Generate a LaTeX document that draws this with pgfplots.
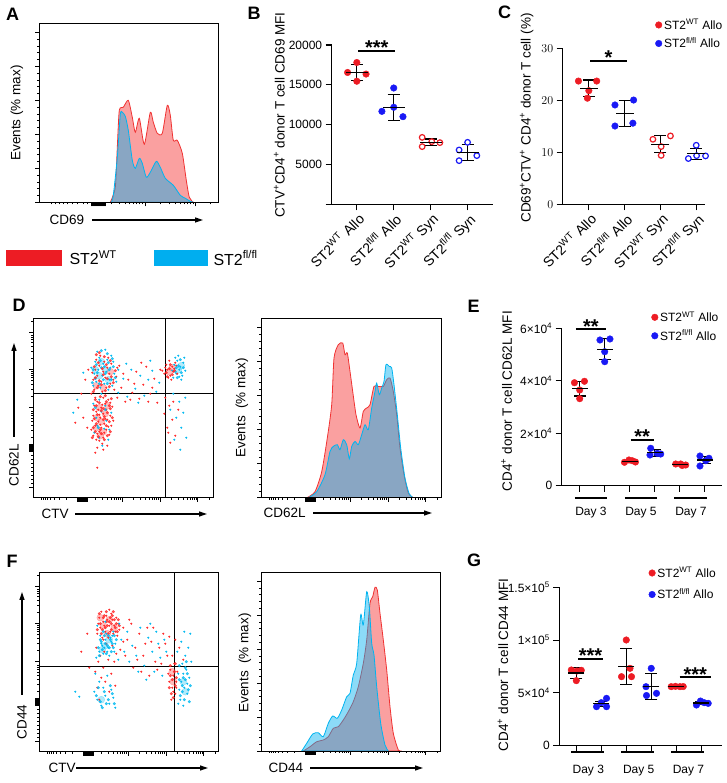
\documentclass[border=0pt]{standalone}
\usepackage{fontspec}
\setmainfont{Liberation Sans}
\usepackage{pgfplots}
\pgfplotsset{compat=1.18}
\usetikzlibrary{arrows.meta}

\definecolor{ptred}{RGB}{237,28,36}
\definecolor{ptblue}{RGB}{25,25,245}
\definecolor{flred}{RGB}{255,40,40}
\definecolor{flcyan}{RGB}{0,185,240}
\definecolor{hred}{RGB}{250,160,160}
\definecolor{hredline}{RGB}{240,50,50}
\definecolor{hcyan}{RGB}{0,175,239}
\definecolor{hcyanline}{RGB}{0,180,240}
\definecolor{legred}{RGB}{237,28,36}
\definecolor{legcyan}{RGB}{0,174,239}

\newcommand\labf{\fontsize{13.5}{15}\selectfont}
\newcommand\tickf{\fontsize{12}{14}\selectfont}
\newcommand\lettf{\fontsize{18}{18}\bfseries\selectfont}

\pgfplotsset{
  base/.style={scale only axis, anchor=south west, font=\tickf},
  flow/.style={base, axis on top, axis line style={line width=0.6pt},
    tick align=outside, xtick pos=left, ytick pos=left,
    xticklabels={}, yticklabels={}, major tick length=4pt, minor tick length=2pt,
    tick style={black, line width=0.5pt}},
  fxt/.style={xtick={44,45,46,47,48,49,50,51,52,53,54,89,127,164},
    minor xtick={8,10,12,14,17,21,26,33,62,69,74,78,81,83,85,87,100,107,112,116,119,121,123,125,138,145,150,154,157,159,161,163,176}},
  fyt/.style={ytick={10,46,47,48,49,50,51,52,53,90,128,165},
    minor ytick={14,18,22,26,30,34,38,42,60,67,72,76,79,82,84,86,101,108,113,117,120,122,124,126,139,146,151,155,158,160,162,176}},
  hyt/.style={ytick={0,34,68,102,136,170}, minor y tick num=4},
  fr/.style={only marks, mark=*, mark size=0.8pt, color=flred},
  fc/.style={only marks, mark=*, mark size=0.8pt, color=flcyan},
  frm/.style={only marks, mark=*, mark size=1.3pt, color=flred, opacity=0.8},
  fcm/.style={only marks, mark=*, mark size=1.3pt, color=flcyan, opacity=0.8},
  frc/.style={only marks, mark=*, mark size=3.5pt, color=flred, opacity=0.3},
  fcc/.style={only marks, mark=*, mark size=3.5pt, color=flcyan, opacity=0.3},
  hr/.style={fill=hred, draw=hredline, line width=0.8pt, smooth, tension=0.4},
  hc/.style={fill=hcyan, fill opacity=0.45, draw=hcyanline, line width=0.8pt, smooth, tension=0.4},
  dot/.style={base, axis lines*=left, axis line style={line width=1.1pt},
    tick style={black, line width=1.1pt}, tick align=outside, clip=false,
    scaled ticks=false, major tick length=6pt, ylabel style={font=\labf}},
  redfill/.style={only marks, mark=*, mark size=3.3pt, color=ptred},
  bluefill/.style={only marks, mark=*, mark size=3.3pt, color=ptblue},
  redopen/.style={only marks, mark=*, mark size=2.8pt, color=ptred, mark options={fill=white, line width=1.2pt}},
  blueopen/.style={only marks, mark=*, mark size=2.8pt, color=ptblue, mark options={fill=white, line width=1.2pt}},
  msd/.style={black, only marks, mark=-, mark options={line width=1.1pt},
    error bars/y dir=both, error bars/y explicit,
    error bars/error bar style={line width=1.1pt, black},
    error bars/error mark options={rotate=90, mark size=6pt, line width=1.1pt, black}},
  sig/.style={black, line width=1.8pt},
  leg/.style={legend style={draw=none, fill=none, inner sep=0pt, row sep=3pt, font=\tickf},
    legend cell align=left,
    legend image code/.code={\draw[mark repeat=2, mark phase=2, ##1] plot coordinates {(0pt,0pt) (3pt,0pt) (6pt,0pt)};}},
  cat/.style={xtick={1,2,3,4},
    xticklabels={ST2\textsuperscript{WT} Allo, ST2\textsuperscript{fl/fl} Allo, ST2\textsuperscript{WT} Syn, ST2\textsuperscript{fl/fl} Syn},
    xticklabel style={rotate=45, anchor=north east, inner sep=1pt, font=\fontsize{14}{16}\selectfont}},
}
\tikzset{star/.style={anchor=base, yshift=-4pt, font=\fontsize{20}{20}\bfseries\selectfont},
  arr/.style={line width=1.2pt, -{Triangle[length=8pt,width=5pt]}}}

\begin{document}
\begin{tikzpicture}[x=1pt,y=1pt]
\useasboundingbox (0,0) rectangle (726,783);

% ---------- A: CD69 histogram
\begin{axis}[flow, at={(39.3pt,580.7pt)}, width=179pt, height=179pt,
  xmin=0, xmax=179, ymin=0, ymax=179, hyt,
  xtick={52,53,54,55,56,57,58,59,60,61,62,63,64,65,66,106,156},
  minor xtick={12,16,20,24,28,33,38,44,48,72,80,86,90,94,97,100,103,121,130,136,141,145,148,151,154,171}]
\addplot[hr] coordinates {(71,0)(76,15)(78,55)(80,92)(84,95)(89,102)(93,85)(96,70)(100,84)(105,58)(111,90)(114,80)(118,69)(123,69)(128,97)(131,87)(134,62)(138,62)(143,49)(147,22)(150,5)(154,0)} \closedcycle;
\addplot[hc] coordinates {(72,0)(74,7)(78,45)(81,88)(83,90)(86,86)(89,72)(93,42)(96,34)(100,44)(103,39)(107,25)(111,30)(117,41)(121,35)(126,24)(134,17)(141,7)(146,4)(151,1)(154,0)} \closedcycle;
\end{axis}

% ---------- B: CD69 MFI
\begin{axis}[dot, cat, at={(331.7pt,578.7pt)}, width=161pt, height=159.3pt,
  xmin=0.32, xmax=4.68, ymin=0, ymax=20000,
  ytick={0,5000,10000,15000,20000}, yticklabels={,5000,10000,15000,20000},
  ylabel={CTV\textsuperscript{+}CD4\textsuperscript{+} donor T cell CD69 MFI},
  ylabel style={at={(axis description cs:-0.325,0.56)}, anchor=center}]
\addplot[redfill] coordinates {(0.75,16550) (1,17800) (1.25,16350) (1,15450)};
\addplot[bluefill] coordinates {(2,14600) (2,12180) (1.68,11670) (2.25,11000)};
\addplot[redopen] coordinates {(2.77,8400) (2.77,7240) (3.03,7870) (3.25,7740)};
\addplot[blueopen] coordinates {(4,7780) (3.77,6820) (4.25,6110) (3.77,5480)};
\addplot[msd, mark size=11pt] coordinates {(1,16550) +- (0,1000) (2,12150) +- (0,1650) (3,7800) +- (0,400) (4,6550) +- (0,1000)};
\addplot[sig] coordinates {(1.04,19250) (2.04,19250)};
\node[star] at (axis cs:1.54,19250) {***};
\end{axis}

% ---------- C: CD69+ percent
\begin{axis}[dot, leg, cat, at={(562.7pt,578.7pt)}, width=142.3pt, height=156pt,
  xmin=0.27, xmax=4.245, ymin=0, ymax=30,
  ytick={0,10,20,30},
  ylabel={CD69\textsuperscript{+}CTV\textsuperscript{+} CD4\textsuperscript{+} donor T cell (\%)},
  ylabel style={at={(axis description cs:-0.253,0.553)}, anchor=center},
  legend style={at={(axis description cs:0.65,1.2)}, anchor=north west}]
\addplot[redfill] coordinates {(0.71,23.7) (1.22,23.7) (1,21.85) (0.96,20.4)};
\addlegendentry{ST2\textsuperscript{WT} Allo}
\addplot[bluefill] coordinates {(1.73,19.1) (2.25,20.05) (1.73,15.05) (2.23,15.6)};
\addlegendentry{ST2\textsuperscript{fl/fl} Allo}
\addplot[redopen] coordinates {(2.79,12.5) (3.28,13.15) (3.02,11.1) (3.02,9.4)};
\addplot[blueopen] coordinates {(4,11.35) (3.78,8.8) (4.01,9.35) (4.26,9.3)};
\addplot[msd, mark size=9pt] coordinates {(1,22.3) +- (0,1.6) (2,17.5) +- (0,2.5) (3,11.55) +- (0,1.6) (4,9.7) +- (0,1.1)};
\addplot[sig] coordinates {(1.04,27.6) (2.06,27.6)};
\node[star] at (axis cs:1.55,27.6) {*};
\end{axis}

% ---------- D: CTV vs CD62L dot plot
\begin{axis}[flow, fxt, fyt, at={(33.3pt,285.3pt)}, width=180pt, height=179.4pt,
  xmin=0, xmax=180, ymin=0, ymax=179.4]
\addplot[frc] coordinates {(63,70)(68,76)(72,84)(66,90)(70,66)(64,80)(67,62)(74,92)(63,112)(70,110)(77,126)(136,126)(139,130)};
\addplot[fcc] coordinates {(66,122)(72,128)(68,136)(75,118)(62,128)(145,128)(148,132)};
\addplot[fc] coordinates {(60,112)(63,116)(67,110)(71,114)(75,108)(79,112)(83,116)(61,124)(65,128)(69,122)(73,126)(77,130)(81,124)(62,136)(66,140)(70,134)(74,138)(78,142)(64,146)(72,148)(80,136)(58,130)(68,104)(76,118)(85,128)
 (61,65)(66,60)(71,69)(75,58)(63,80)(68,86)(73,77)(78,85)(60,94)(66,98)(72,92)(69,52)(64,72)(76,68)
 (85,105)(90,119)(94,101)(98,128)(102,109)(107,122)(111,102)(115,118)(119,127)(123,106)(126,115)(93,134)(105,95)(117,137)
 (140,120)(143,124)(146,128)(149,122)(141,133)(144,137)(147,131)(150,135)(145,142)(148,118)(152,127)(142,140)(151,140)(139,127)(146,121)
 (140,104)(146,96)(150,85)(143,80)(148,70)(153,60)(141,58)(147,48)(137,88)(152,100)(44,98)(40,85)(50,125)};
\addplot[fr] coordinates {(60,62)(63,58)(66,66)(70,60)(73,68)(76,63)(62,72)(65,76)(68,70)(71,74)(74,78)(78,72)(60,82)(63,86)(67,80)(70,84)(73,88)(77,82)(61,92)(64,96)(68,90)(72,94)(75,98)(79,91)(66,57)(69,54)(58,68)(80,77)(62,100)(70,100)(65,88)(69,93)(72,79)(66,83)(64,64)(75,71)(59,77)(77,95)(71,65)(67,73)
 (61,108)(65,112)(69,106)(73,110)(77,114)(81,108)(60,118)(64,122)(68,116)(72,120)(76,124)(80,118)(62,128)(66,132)(70,126)(74,130)(78,134)(63,138)(67,142)(71,136)(75,140)(59,125)(83,121)(58,104)(84,130)
 (84,100)(88,110)(92,96)(95,118)(99,105)(103,126)(106,99)(110,113)(113,131)(117,104)(121,119)(124,95)(127,128)(90,124)(101,114)(108,135)(115,96)(119,110)(86,132)(97,98)
 (131,124)(134,128)(137,122)(140,126)(133,133)(136,137)(139,131)(142,135)(135,120)(138,118)(141,129)(144,124)(132,130)(129,127)(143,132)
 (132,100)(136,92)(131,84)(139,78)(134,70)(142,62)(137,55)(145,88)(140,96)(135,65)
 (45,90)(50,80)(52,118)(48,104)(54,70)(55,128)(42,75)(64,50)(70,48)(74,52)(62,45)(64,30)};
\addplot[fcm] coordinates {(59,115)(62,119)(66,114)(70,118)(74,114)(78,118)(82,120)(60,128)(64,125)(68,130)(72,124)(76,128)(80,131)(63,133)(67,137)(71,131)(75,135)(79,139)(68,147)(74,144)
 (142,126)(145,132)(148,125)(150,130)(144,120)(147,138)(143,130)(65,70)(72,88)(62,90)};
\addplot[frm] coordinates {(59,60)(62,66)(65,61)(68,64)(71,58)(74,62)(77,66)(60,70)(63,74)(67,68)(70,78)(73,72)(76,76)(79,80)(61,79)(64,83)(68,87)(71,81)(74,85)(77,89)(60,88)(63,92)(66,95)(70,89)(73,96)(76,92)(62,98)(67,101)(72,102)(78,99)
 (60,106)(64,110)(68,113)(72,107)(76,111)(80,115)(62,120)(66,117)(70,123)(74,119)(78,121)(82,127)(61,131)(65,135)(69,129)(73,133)(77,137)(66,145)(71,141)(63,143)
 (133,125)(136,129)(139,123)(137,133)(141,127)(134,121)};
\addplot[black, line width=0.9pt] coordinates {(132,0) (132,179.4)};
\addplot[black, line width=0.9pt] coordinates {(0,104) (180,104)};
\end{axis}

% ---------- D: CD62L histogram
\begin{axis}[flow, fxt, hyt, at={(261pt,285.3pt)}, width=180pt, height=179.4pt,
  xmin=0, xmax=180, ymin=0, ymax=179.4]
\addplot[hr] coordinates {(46,0)(54,6)(60.7,26)(66.3,59.7)(70.7,93)(73,139.7)(77.3,153)(81.7,154.7)(84,143)(86.3,144.7)(89,126.3)(91.7,106.3)(95,83)(99,69.7)(102.3,86.3)(105.7,89.7)(109,93)(113,111.3)(117.3,111.3)(122.3,111.3)(125.7,118)(129,119.7)(132.3,106.3)(135.7,83)(139,49.7)(143,23)(147.3,4.7)(152.3,0)} \closedcycle;
\addplot[hc] coordinates {(47.3,0)(55.7,6)(64,23)(69,46.3)(72.3,51.3)(76.3,53)(79,48)(82.3,58)(85.7,53)(88.3,39)(90.7,51.3)(94,56.3)(97.3,53)(100.7,63)(104,73)(107.3,68)(110.7,89.7)(114,106.3)(115.7,114.7)(118.3,103)(120.7,109.7)(123,116.3)(125,133)(128.3,131.3)(130.7,129.7)(133,113)(136.3,83)(139.7,49.7)(144,19.7)(148.3,3.7)(152.3,0)} \closedcycle;
\end{axis}

% ---------- E: CD62L MFI over days
\begin{axis}[dot, leg, at={(561.7pt,297.3pt)}, width=160pt, height=157.4pt,
  xmin=0.28, xmax=6.68, ymin=0, ymax=60000,
  xtick={1,2,3,4,5,6}, xticklabels={},
  ytick={0,20000,40000,60000},
  yticklabels={0,2×10\textsuperscript{4},4×10\textsuperscript{4},6×10\textsuperscript{4}},
  ylabel={CD4\textsuperscript{+} donor T cell CD62L MFI},
  ylabel style={at={(axis description cs:-0.344,0.538)}, anchor=center},
  legend style={at={(axis description cs:0.56,1.12)}, anchor=north west}]
\addplot[redfill] coordinates {(0.79,39260) (1.19,39800) (1,36480) (1,33170) (2.79,8920) (2.97,9800) (3.1,9530) (3.23,9030) (4.84,8270) (5.04,8270) (5.24,7890) (5.1,7700)};
\addlegendentry{ST2\textsuperscript{WT} Allo}
\addplot[bluefill] coordinates {(1.81,55540) (2.21,55920) (2,51080) (2,47270) (3.84,14260) (3.81,11700) (4.1,12340) (4.24,12080) (5.81,11320) (6.17,10450) (5.81,7510) (6.04,9530)};
\addlegendentry{ST2\textsuperscript{fl/fl} Allo}
\addplot[msd, mark size=8pt] coordinates {(1,36980) +- (0,2800) (2,52000) +- (0,4000) (3,9150) +- (0,400) (4,12580) +- (0,1300) (5,8160) +- (0,250) (6,9800) +- (0,1500)};
\addplot[sig] coordinates {(0.85,59730) (2.05,59730)};
\node[star] at (axis cs:1.45,59730) {**};
\addplot[sig] coordinates {(3.04,17420) (3.97,17420)};
\node[star] at (axis cs:3.5,17420) {**};
\addplot[black, line width=1.6pt] coordinates {(0.81,-4800) (2.08,-4800)};
\addplot[black, line width=1.6pt] coordinates {(2.81,-4800) (4.1,-4800)};
\addplot[black, line width=1.6pt] coordinates {(4.78,-4800) (6.08,-4800)};
\node[anchor=base] at (axis cs:1.45,-11550) {Day 3};
\node[anchor=base] at (axis cs:3.45,-11550) {Day 5};
\node[anchor=base] at (axis cs:5.45,-11550) {Day 7};
\end{axis}

% ---------- F: CTV vs CD44 dot plot
\begin{axis}[flow, fxt, fyt, at={(39.3pt,31.3pt)}, width=179.4pt, height=179pt,
  xmin=0, xmax=179.4, ymin=0, ymax=179]
\addplot[frc] coordinates {(64,126)(70,132)(75,124)(68,118)(61,134)(134,70)(133,80)};
\addplot[fcc] coordinates {(66,106)(70,112)(63,102)(144,70)(146,60)(62,52)};
\addplot[fr] coordinates {(58,118)(61,124)(64,130)(67,136)(70,126)(73,132)(76,120)(79,128)(60,134)(63,114)(66,120)(69,114)(72,138)(75,126)(78,116)(62,140)(68,132)(74,118)(65,126)(71,120)(77,134)(59,128)(80,122)(70,142)(64,112)
 (57,104)(61,96)(65,100)(69,92)(73,106)(77,98)(81,102)(59,90)(84,110)(67,108)(75,90)
 (56,80)(62,74)(58,64)(66,70)(70,60)(60,52)(72,78)(64,84)(76,66)
 (84,124)(88,112)(92,128)(96,104)(100,118)(104,96)(108,124)(112,110)(116,90)(120,104)(124,118)(128,96)(86,96)(94,84)(102,80)(110,76)(118,82)(126,108)(90,132)(106,108)(114,124)(122,88)(98,92)(130,115)
 (131,82)(134,76)(137,70)(133,64)(136,58)(132,52)(135,88)(138,80)(130,70)(134,60)(129,78)(137,64)
 (133,96)(140,104)(136,112)(144,92)(42,100)(48,118)(50,84)};
\addplot[frm] coordinates {(58,122)(61,128)(64,134)(67,140)(70,130)(73,136)(76,124)(79,132)(62,118)(66,124)(69,118)(72,128)(75,132)(78,120)(60,138)(65,136)(68,126)(71,134)(74,140)(77,128)(63,122)(67,130)(72,122)(80,126)
 (131,86)(133,72)(136,66)(132,58)(135,80)(137,74)(130,64)(134,54)(136,88)(131,76)};
\addplot[fc] coordinates {(60,100)(63,106)(66,112)(69,104)(72,110)(75,100)(61,116)(64,98)(67,118)(70,96)(73,116)(76,108)(62,108)(68,100)(74,120)(65,104)(71,114)
 (58,126)(82,112)(85,100)(79,92)(57,94)(80,128)(66,130)
 (55,60)(58,52)(62,46)(66,56)(70,48)(60,70)(64,64)(72,62)(68,76)(74,54)(56,78)(76,44)
 (88,120)(93,106)(97,96)(101,124)(105,86)(109,114)(113,100)(117,120)(121,94)(125,112)(90,90)(99,80)(107,72)(115,80)(123,76)(111,128)(119,108)(127,100)
 (139,78)(142,70)(145,64)(148,58)(141,52)(144,46)(147,82)(150,74)(140,62)(143,88)(146,96)(149,104)(142,110)(151,118)(138,100)(145,120)(152,90)(139,48)(148,68)(144,78)
 (40,55)(36,60)};
\addplot[fcm] coordinates {(59,104)(62,110)(65,116)(68,106)(71,112)(74,104)(77,112)(60,96)(63,102)(66,108)(69,116)(72,100)(75,116)(61,112)(67,98)(73,108)(64,120)(70,104)
 (57,56)(61,50)(65,60)(69,52)(73,58)(59,64)(63,44)(67,48)(71,66)(75,48)
 (140,72)(143,66)(146,72)(149,62)(141,56)(145,52)(148,78)(151,66)(143,60)(146,84)(140,86)(150,50)(144,74)(147,90)};
\addplot[black, line width=0.9pt] coordinates {(135,0) (135,179)};
\addplot[black, line width=0.9pt] coordinates {(0,85.3) (179.4,85.3)};
\end{axis}

% ---------- F: CD44 histogram
\begin{axis}[flow, fxt, hyt, at={(261pt,32pt)}, width=179pt, height=178.3pt,
  xmin=0, xmax=179, ymin=0, ymax=178.3]
\addplot[hr] coordinates {(42.3,0)(49,4.3)(55.7,9.3)(62.3,11)(67.3,14.3)(72.3,22.7)(77.3,24.3)(82.3,31)(87.3,39.3)(92.3,49.3)(97.3,64.3)(102.3,87.7)(105.7,111)(109,147.7)(111.7,154.3)(114,163.7)(116.3,161)(119,137.7)(122.3,111)(125.7,81)(129,44.3)(132.3,17.7)(137.3,1)(140.7,0)} \closedcycle;
\addplot[hc] coordinates {(40.7,0)(45.7,7.7)(51.7,17)(57.3,18.3)(62.3,14.3)(67.3,27.7)(71.7,35)(76.3,32.7)(80.7,41)(85.7,54.3)(89,57.7)(92.3,76)(95.7,87.7)(99.7,136)(102.3,126)(105.7,159.3)(108.3,144.3)(110.7,107.7)(113,96)(115.7,64.3)(119.7,27.7)(124,6)(127.3,0)} \closedcycle;
\end{axis}

% ---------- G: CD44 MFI over days
\begin{axis}[dot, leg, at={(559.3pt,37.3pt)}, width=162.4pt, height=158.4pt,
  xmin=0.32, xmax=6.82, ymin=0, ymax=150000,
  xtick={1,2,3,4,5,6}, xticklabels={},
  ytick={0,50000,100000,150000},
  yticklabels={0,5×10\textsuperscript{4},1×10\textsuperscript{5},1.5×10\textsuperscript{5}},
  ylabel={CD4\textsuperscript{+} donor T cell CD44 MFI},
  ylabel style={at={(axis description cs:-0.347,0.51)}, anchor=center},
  legend style={at={(axis description cs:0.55,1.14)}, anchor=north west, row sep=6pt}]
\addplot[redfill] coordinates {(0.8,71700) (1.02,70700) (1.2,71400) (1,61600) (3,100100) (3.15,73260) (2.81,65370) (3.21,65370) (4.8,55900) (4.97,56200) (5.15,55900) (5.28,56000)};
\addlegendentry{ST2\textsuperscript{WT} Allo}
\addplot[bluefill] coordinates {(1.81,36950) (2.21,36950) (2,40740) (2.21,44840) (4,73260) (3.79,55900) (4.21,49580) (3.81,47500) (5.81,38530) (6.12,40740) (5.97,42300) (6.28,40100)};
\addlegendentry{ST2\textsuperscript{fl/fl} Allo}
\addplot[msd, mark size=8pt] coordinates {(1,68850) +- (0,4800) (2,39700) +- (0,2500) (3,74850) +- (0,17000) (4,56000) +- (0,12000) (5,56000) +- (0,400) (6,40400) +- (0,1600)};
\addplot[sig] coordinates {(1.08,82100) (2.05,82100)};
\node[star] at (axis cs:1.57,82100) {***};
\addplot[sig] coordinates {(5.14,64740) (6.38,64740)};
\node[star] at (axis cs:5.76,64740) {***};
\addplot[black, line width=1.6pt] coordinates {(0.8,-6250) (2.1,-6250)};
\addplot[black, line width=1.6pt] coordinates {(2.8,-6250) (4.1,-6250)};
\addplot[black, line width=1.6pt] coordinates {(4.8,-6250) (6.1,-6250)};
\node[anchor=base] at (axis cs:1.48,-26400) {Day 3};
\node[anchor=base] at (axis cs:3.5,-26400) {Day 5};
\node[anchor=base] at (axis cs:5.49,-26400) {Day 7};
\end{axis}

% ---------- labels of the flow panels
\node[font=\labf, rotate=90] at (17,670) {Events (\% max)};
\node[font=\labf, anchor=west] at (46,563) {CD69};
\draw[arr] (92,563) -- (203,563);
\fill[legred] (6,517) rectangle (62,533);
\node[font=\fontsize{16}{18}\selectfont, anchor=west] at (66,525) {ST2\textsuperscript{WT}};
\fill[legcyan] (154,517) rectangle (208,533);
\node[font=\fontsize{16}{18}\selectfont, anchor=west] at (210,525) {ST2\textsuperscript{fl/fl}};

\node[font=\labf, rotate=90] at (14,318) {CD62L};
\draw[arr] (14,346) -- (14,440);
\node[font=\labf, anchor=west] at (38,269) {CTV};
\draw[arr] (75,269) -- (207,269);
\node[font=\labf, rotate=90] at (242,375) {Events\ \ (\% max)};
\node[font=\labf, anchor=west] at (260,270) {CD62L};
\draw[arr] (313,270) -- (432,270);

\node[font=\labf, rotate=90] at (22,61) {CD44};
\draw[arr] (22,88) -- (22,191);
\node[font=\labf, anchor=west] at (45,15) {CTV};
\draw[arr] (76,15) -- (208,15);
\node[font=\labf, rotate=90] at (245,120) {Events\ \ (\% max)};
\node[font=\labf, anchor=west] at (265,15) {CD44};
\draw[arr] (310,15) -- (423,15);

% ---------- panel letters
\node[font=\lettf] at (12.5,769) {A};
\node[font=\lettf] at (254,769.5) {B};
\node[font=\lettf] at (504.5,770.5) {C};
\node[font=\lettf] at (19,478) {D};
\node[font=\lettf] at (473.5,477) {E};
\node[font=\lettf] at (12,222) {F};
\node[font=\lettf] at (474,223) {G};
\end{tikzpicture}
\end{document}
